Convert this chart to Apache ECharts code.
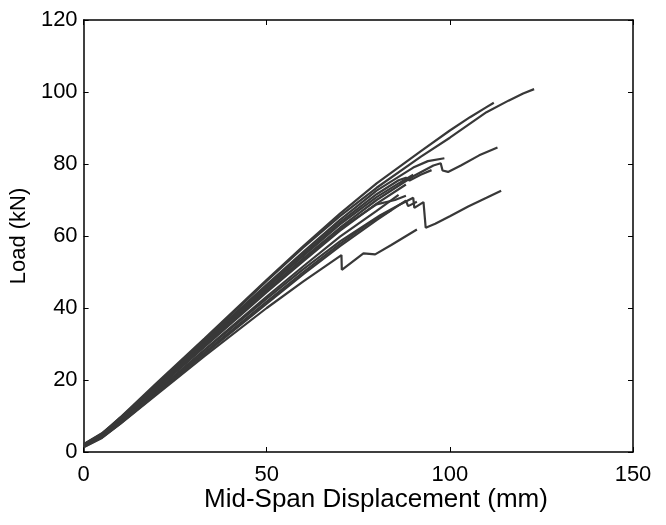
<!DOCTYPE html>
<html>
<head>
<meta charset="utf-8">
<script src="https://cdn.jsdelivr.net/npm/echarts@6/dist/echarts.min.js"></script>
<style>
html,body{margin:0;padding:0;background:#fff;}
#chart{width:666px;height:525px;}
</style>
</head>
<body>
<div id="chart"></div>
<script>
// Axis ticks
const xTicks = [0, 50, 100, 150];
const yTicks = [0, 20, 40, 60, 80, 100, 120];
const xTitle = 'Mid-Span Displacement (mm)';
const yTitle = 'Load (kN)';

// Specimen curves: [mid-span displacement (mm), load (kN)]
const s1 = [[0,1.8],[5,4.8],[10,9.3],[20,18.8],[33,31.2],[50,47.5],[60,56.8],[70,65.5],[80,73.4],[92,82],[100,87.3],[110,94.4],[116,97.6],[120,99.6],[123,100.8]];
const s2 = [[0,2],[5,5],[10,9.6],[20,19.2],[33,31.5],[50,47.8],[60,57.2],[70,66.2],[80,74.6],[92,83.5],[100,89.3],[105.5,93],[110,95.8],[112,97]];
const s3 = [[0,1.5],[5,4.3],[10,8.6],[20,17.8],[33,29.8],[50,45],[60,53.8],[70,62.3],[80,70],[90,76.6],[95.5,79.6],[97.5,80.2],[98,78.2],[99.5,77.8],[103,79.6],[108,82.4],[113,84.6]];
const s4 = [[0,2.2],[5,5.2],[10,9.5],[20,18.6],[33,30.8],[50,46.5],[60,55.6],[70,64.5],[80,72.6],[90,79],[94,80.8],[98.5,81.6]];
const s5 = [[0,1.6],[5,4.5],[10,8.8],[20,18],[33,30],[50,45.6],[60,54.5],[70,63.2],[80,70.8],[86,74.6],[90,77]];
const s6 = [[0,1.8],[5,4.6],[10,8.7],[20,17.5],[33,29.2],[50,44.4],[60,53],[70,61.5],[80,69],[88,74.3]];
const s7 = [[0,1.5],[5,4.2],[10,8.3],[20,16.9],[33,28.4],[50,43.2],[60,51.6],[70,59.8],[80,67],[86,71.4]];
const s8 = [[0,1.7],[5,4.4],[10,8.4],[20,17],[33,28.2],[50,42.6],[60,50.8],[70,58.5],[81,65.8],[86.5,68.8],[90,70.6],[90.3,67.8],[92.8,69.4],[93.4,62.3],[96,63.4],[100,65.5],[105,68.2],[110,70.6],[114,72.6]];
const s9 = [[0,1.4],[5,4],[10,7.8],[20,16],[33,26.6],[50,40],[60,47.4],[70.4,54.7],[70.5,50.6],[76.4,55.2],[79.6,54.9],[84,57.5],[91,61.8]];
const s10 = [[0,2],[5,4.9],[10,9],[20,17.8],[33,29.5],[50,44.8],[60,53.4],[70,62],[80,68.8],[85,70],[88,71.2]];
const s11 = [[0,1.6],[5,4.3],[10,8.2],[20,16.6],[33,27.6],[50,41.8],[60,50],[70,57.8],[78,63.6],[84,67.2]];
const s12 = [[0,2.1],[5,5.1],[10,9.2],[20,18.3],[33,30.4],[50,46],[60,55],[70,63.8],[80,71.6],[86,75.5],[88,76.2],[89,75.4],[92,77],[95,78.3]];
const s13 = [[0,1.3],[5,3.9],[10,7.9],[20,16.3],[33,27.2],[50,41.2],[60,49.4],[70,57.2],[80,64.4],[86,68.5],[88,69.8],[88.6,68.3],[91,69.5]];

const specimens = [s1, s2, s3, s4, s5, s6, s7, s8, s9, s10, s11, s12, s13];

const FONT = '"Liberation Sans", Arial, Helvetica, sans-serif';
const chart = echarts.init(document.getElementById('chart'), null, {renderer: 'canvas'});

const lineColor = '#383838';

const option = {
  animation: false,
  backgroundColor: '#fff',
  grid: {left: 83, right: 33, top: 20, bottom: 73, containLabel: false},
  graphic: [{
    type: 'text', left: 204, top: 487,
    style: {text: xTitle, fontFamily: FONT, fontSize: 26, fill: '#000'}
  }],
  xAxis: [{
    type: 'value', min: xTicks[0], max: xTicks[xTicks.length - 1], interval: 50,
    axisLine: {show: true, onZero: false, lineStyle: {color: '#000', width: 1.5}},
    axisTick: {show: true, inside: true, length: 5, lineStyle: {color: '#000'}},
    axisLabel: {fontFamily: FONT, fontSize: 22, color: '#000', margin: 12},
    splitLine: {show: false}
  }, {
    type: 'value', position: 'top', min: xTicks[0], max: xTicks[xTicks.length - 1], interval: 50,
    axisLine: {show: true, onZero: false, lineStyle: {color: '#000', width: 1.5}},
    axisTick: {show: true, inside: true, length: 5, lineStyle: {color: '#000'}},
    axisLabel: {show: false}, splitLine: {show: false}
  }],
  yAxis: [{
    type: 'value', min: yTicks[0], max: yTicks[yTicks.length - 1], interval: 20,
    name: yTitle, nameLocation: 'middle', nameGap: 48, nameRotate: 90,
    nameTextStyle: {fontFamily: FONT, fontSize: 22, color: '#000'},
    axisLine: {show: true, onZero: false, lineStyle: {color: '#000', width: 1.5}},
    axisTick: {show: true, inside: true, length: 5, lineStyle: {color: '#000'}},
    axisLabel: {fontFamily: FONT, fontSize: 22, color: '#000', margin: 6},
    splitLine: {show: false}
  }, {
    type: 'value', position: 'right', min: yTicks[0], max: yTicks[yTicks.length - 1], interval: 20,
    axisLine: {show: true, onZero: false, lineStyle: {color: '#000', width: 1.5}},
    axisTick: {show: true, inside: true, length: 5, lineStyle: {color: '#000'}},
    axisLabel: {show: false}, splitLine: {show: false}
  }],
  series: specimens.map((d, i) => ({
    name: 'Specimen ' + (i + 1),
    type: 'line',
    data: d,
    xAxisIndex: 0, yAxisIndex: 0,
    showSymbol: false,
    symbol: 'none',
    smooth: false,
    lineStyle: {color: lineColor, width: 2.2},
    z: 2
  }))
};
chart.setOption(option);
</script>
</body>
</html>
